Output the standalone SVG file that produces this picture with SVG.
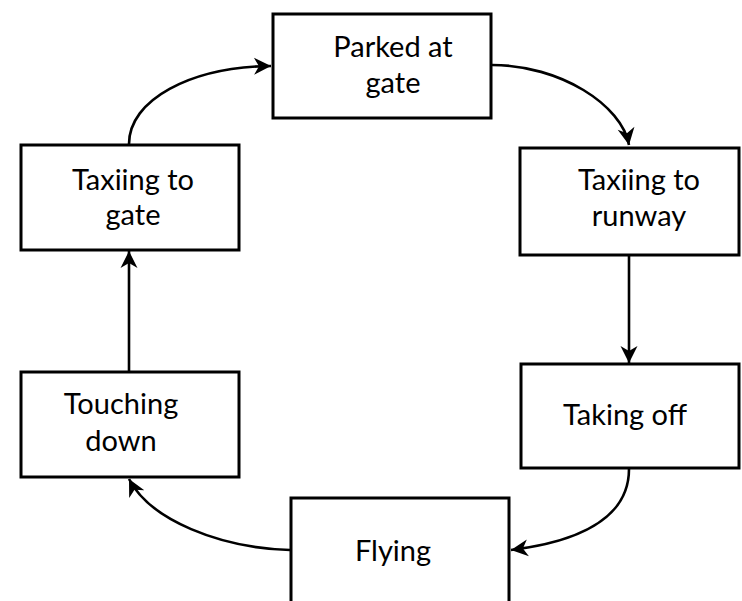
<svg xmlns="http://www.w3.org/2000/svg" width="742" height="601" viewBox="0 0 742 601">
  <style>
    .box { fill: #ffffff; stroke: #000000; stroke-width: 3; }
    .label { font-family: "Lato", "Open Sans", "Liberation Sans", sans-serif; font-size: 29px; fill: #000000; text-anchor: middle; }
    .edge { fill: none; stroke: #000000; stroke-width: 2.6; marker-end: url(#arrow); }
  </style>
  <defs>
    <marker id="arrow" markerUnits="userSpaceOnUse" viewBox="-19 -10 21 20" refX="0" refY="0" markerWidth="21" markerHeight="20" orient="auto">
      <path d="M0,0 L-17,-8.5 L-12,0 L-17,8.5 Z" fill="#000000"/>
    </marker>
  </defs>
  <rect width="742" height="601" fill="#ffffff"/>

  <g id="connectors">
    <path class="edge" d="M492,65 C560,65 622,105 629,145"/>
    <path class="edge" d="M629,255 L629,363"/>
    <path class="edge" d="M629,469 C629,520 575,542 511,550"/>
    <path class="edge" d="M290,550 C220,548 150,520 129,479"/>
    <path class="edge" d="M129,371 L129,251"/>
    <path class="edge" d="M129,144 C129,100 190,67 271,66"/>
  </g>

  <g id="parked">
    <rect class="box" x="273" y="14" width="218" height="104"/>
    <text class="label" x="393" y="57">Parked at</text>
    <text class="label" x="393" y="93">gate</text>
  </g>
  <g id="taxi-runway">
    <rect class="box" x="520" y="148" width="219" height="107"/>
    <text class="label" x="639" y="190">Taxiing to</text>
    <text class="label" x="639" y="226">runway</text>
  </g>
  <g id="takeoff">
    <rect class="box" x="521" y="364" width="218" height="104"/>
    <text class="label" x="625" y="425">Taking off</text>
  </g>
  <g id="flying">
    <rect class="box" x="291" y="498" width="218" height="110"/>
    <text class="label" x="393" y="561">Flying</text>
  </g>
  <g id="touchdown">
    <rect class="box" x="21" y="372" width="218" height="105"/>
    <text class="label" x="121" y="414">Touching</text>
    <text class="label" x="121" y="451">down</text>
  </g>
  <g id="taxi-gate">
    <rect class="box" x="21" y="145" width="218" height="105"/>
    <text class="label" x="133" y="190">Taxiing to</text>
    <text class="label" x="133" y="225">gate</text>
  </g>
</svg>
